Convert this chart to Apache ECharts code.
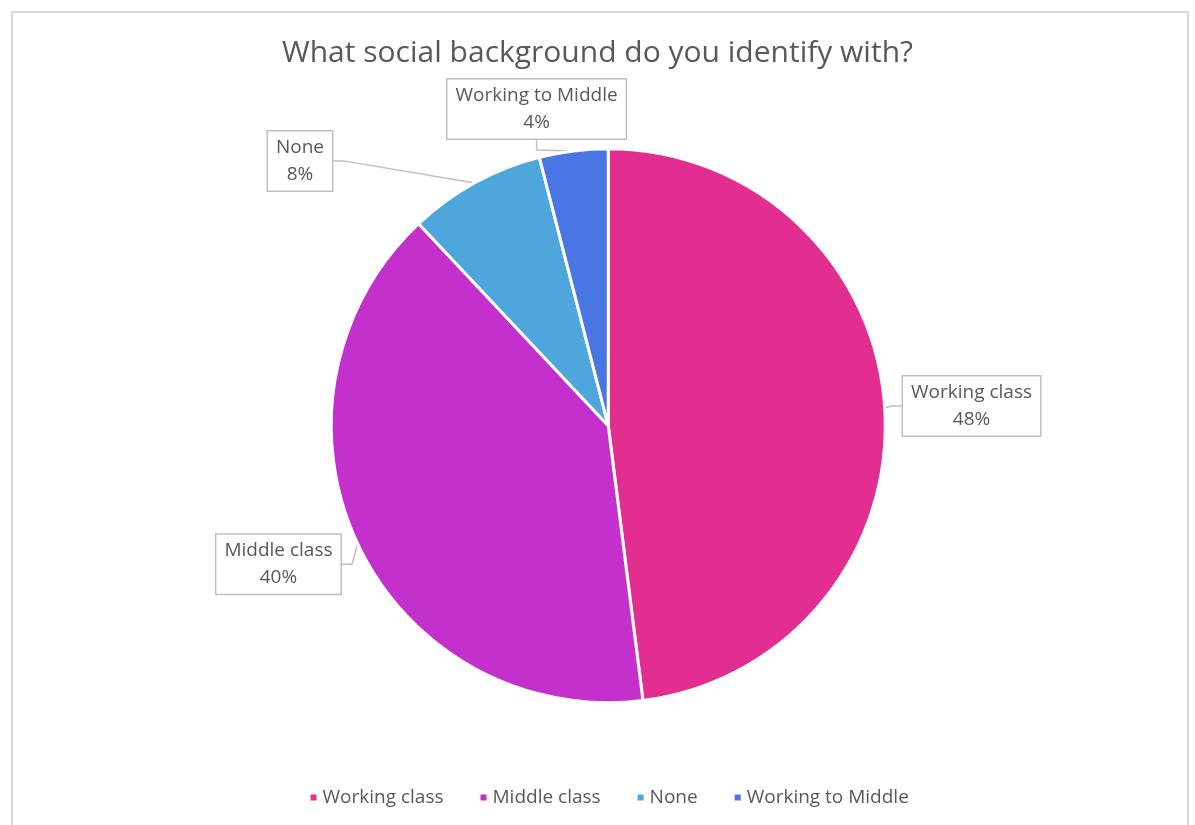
<!DOCTYPE html>
<html>
<head>
<meta charset="utf-8">
<script src="https://cdn.jsdelivr.net/npm/echarts@6/dist/echarts.min.js"></script>
<style>
html,body{margin:0;padding:0;background:#fff;}
#chart{width:1195px;height:825px;}
</style>
</head>
<body>
<div id="chart"></div>
<script>
const categories = ['Working class', 'Middle class', 'None', 'Working to Middle'];
const values = [48, 40, 8, 4];
const colors = ['#E22D91', '#C430CC', '#4EA6DC', '#4A76E4'];
const titleText = 'What social background do you identify with?';

// label box centres, as fractions of the chart size
const labelSpots = [[0.813, 0.492], [0.233, 0.684], [0.251, 0.195], [0.449, 0.132]];

const chart = echarts.init(document.getElementById('chart'));
const font = '"Open Sans", "Noto Sans", sans-serif';
chart.setOption({
  backgroundColor: '#fff',
  graphic: [{
    type: 'rect',
    shape: { x: 12, y: 12, width: 1176, height: 830 },
    style: { fill: 'none', stroke: '#d9d9d9', lineWidth: 2 },
    silent: true
  }],
  title: {
    text: titleText,
    left: 'center',
    top: 33,
    textStyle: { fontFamily: font, fontSize: 30, fontWeight: 'normal', color: '#595959' }
  },
  legend: {
    bottom: 13,
    left: '25.4%',
    icon: 'rect',
    itemWidth: 8,
    itemHeight: 8,
    itemGap: 35,
    textStyle: { fontFamily: font, fontSize: 19, color: '#595959' },
    data: categories
  },
  series: [{
    type: 'pie',
    center: ['50.9%', '51.6%'],
    radius: 277,
    startAngle: 90,
    clockwise: true,
    animation: false,
    itemStyle: { borderColor: '#fff', borderWidth: 3 },
    data: categories.map((c, i) => ({ name: c, value: values[i], itemStyle: { color: colors[i] } })),
    label: {
      show: true,
      position: 'outside',
      formatter: '{b}\n{d}%',
      fontFamily: font,
      fontSize: 19,
      lineHeight: 27,
      color: '#595959',
      align: 'center',
      backgroundColor: '#fff',
      borderColor: '#bfbfbf',
      borderWidth: 1.5,
      padding: [3, 8, 2, 8]
    },
    labelLine: { show: true, length: 10, length2: 10, lineStyle: { color: '#bfbfbf', width: 1.5 } },
    labelLayout: function (p) {
      const s = labelSpots[p.dataIndex];
      return { x: s[0] * 1195, y: s[1] * 825, align: 'center', verticalAlign: 'middle' };
    }
  }]
});
</script>
</body>
</html>
